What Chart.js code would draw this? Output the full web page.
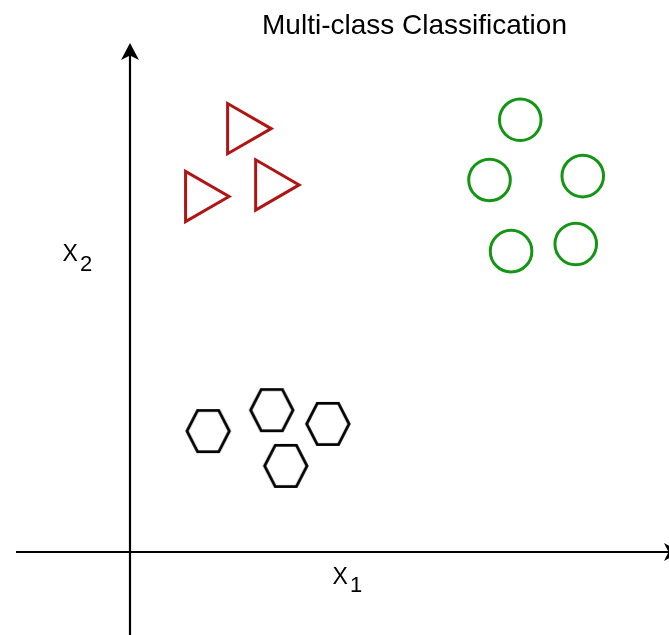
<!DOCTYPE html>
<html>
<head>
    <title>Multi-class Classification</title>
    <script src="https://cdn.jsdelivr.net/npm/chart.js"></script>
    <style>
        html, body {
            margin: 0;
            padding: 0;
            background-color: #ffffff;
        }
        #wrap {
            position: relative;
            width: 669px;
            height: 635px;
        }
    </style>
</head>
<body>
    <div id="wrap">
        <canvas id="myChart"></canvas>
    </div>
    <script>
        // class A: red triangles
        const triX = [2.08, 1.30, 2.60];
        const triY = [7.67, 6.44, 6.65];
        // class B: green circles
        const circX = [7.24, 6.67, 8.40, 7.07, 8.27];
        const circY = [7.83, 6.74, 6.81, 5.45, 5.58];
        // class C: black hexagons
        const hexX = [1.45, 2.63, 3.67, 2.89];
        const hexY = [2.19, 2.57, 2.32, 1.56];

        const titleText = "Multi-class Classification";
        const xLabel = ["X", "1"];
        const yLabel = ["X", "2"];

        function toPoints(xs, ys) {
            return xs.map((x, i) => ({ x: x, y: ys[i] }));
        }

        // hexagon marker (flat top), drawn once on its own canvas
        function makeHexagon() {
            const c = document.createElement("canvas");
            c.width = 52;
            c.height = 50;
            const g = c.getContext("2d");
            const cx = 26, cy = 25, hw = 21.2, hh = 20.6;
            g.beginPath();
            g.moveTo(cx - hw, cy);
            g.lineTo(cx - hw / 2, cy - hh);
            g.lineTo(cx + hw / 2, cy - hh);
            g.lineTo(cx + hw, cy);
            g.lineTo(cx + hw / 2, cy + hh);
            g.lineTo(cx - hw / 2, cy + hh);
            g.closePath();
            g.lineWidth = 2.9;
            g.lineJoin = "miter";
            g.strokeStyle = "#000000";
            g.stroke();
            return c;
        }

        function arrowHead(ctx, tipX, tipY, dir) {
            // dir: "up" or "right"
            ctx.beginPath();
            if (dir === "up") {
                ctx.moveTo(tipX, tipY);
                ctx.lineTo(tipX + 9, tipY + 17);
                ctx.lineTo(tipX, tipY + 12.5);
                ctx.lineTo(tipX - 9, tipY + 17);
            } else {
                ctx.moveTo(tipX, tipY);
                ctx.lineTo(tipX - 17, tipY + 9);
                ctx.lineTo(tipX - 12.5, tipY);
                ctx.lineTo(tipX - 17, tipY - 9);
            }
            ctx.closePath();
            ctx.fill();
        }

        // axes with arrows, axis names and the title
        const axesPlugin = {
            id: "axesPlugin",
            beforeDatasetsDraw(chart) {
                const ctx = chart.ctx;
                const ox = chart.scales.x.getPixelForValue(0);
                const oy = chart.scales.y.getPixelForValue(0);
                const W = chart.width;
                const H = chart.height;
                ctx.save();
                ctx.strokeStyle = "#000000";
                ctx.fillStyle = "#000000";
                ctx.lineWidth = 2.2;
                ctx.beginPath();
                ctx.moveTo(16, oy);
                ctx.lineTo(W + 4, oy);
                ctx.moveTo(ox, H);
                ctx.lineTo(ox, 52);
                ctx.stroke();
                arrowHead(ctx, ox, 43, "up");
                arrowHead(ctx, W + 12, oy, "right");

                ctx.textBaseline = "alphabetic";
                ctx.textAlign = "left";
                ctx.font = "23px 'Liberation Sans', Arial, sans-serif";
                ctx.fillText(yLabel[0], ox - 67.5, oy - 291);
                ctx.fillText(xLabel[0], ox + 202.5, oy + 31.5);
                ctx.font = "22px 'Liberation Sans', Arial, sans-serif";
                ctx.fillText(yLabel[1], ox - 50, oy - 281);
                ctx.fillText(xLabel[1], ox + 220, oy + 40);

                ctx.textAlign = "center";
                ctx.font = "28px 'Liberation Sans', Arial, sans-serif";
                ctx.fillText(titleText, ox + 284.5, 34);
                ctx.restore();
            }
        };

        const ctx = document.getElementById("myChart").getContext("2d");
        const myChart = new Chart(ctx, {
            type: "scatter",
            data: {
                datasets: [
                    {
                        label: "Class 1",
                        data: toPoints(triX, triY),
                        pointStyle: "triangle",
                        rotation: 90,
                        radius: 29,
                        hoverRadius: 29,
                        borderWidth: 3,
                        hoverBorderWidth: 3,
                        borderColor: "#B01515",
                        backgroundColor: "rgba(0,0,0,0)"
                    },
                    {
                        label: "Class 2",
                        data: toPoints(circX, circY),
                        pointStyle: "circle",
                        radius: 20.8,
                        hoverRadius: 20.8,
                        borderWidth: 3,
                        hoverBorderWidth: 3,
                        borderColor: "#149614",
                        backgroundColor: "rgba(0,0,0,0)"
                    },
                    {
                        label: "Class 3",
                        data: toPoints(hexX, hexY),
                        pointStyle: makeHexagon(),
                        radius: 22,
                        hoverRadius: 22,
                        borderColor: "#000000",
                        backgroundColor: "rgba(0,0,0,0)"
                    }
                ]
            },
            options: {
                responsive: true,
                maintainAspectRatio: false,
                animation: false,
                layout: {
                    autoPadding: false,
                    padding: { left: 130, right: 0, top: 0, bottom: 83 }
                },
                scales: {
                    x: { type: "linear", min: 0, max: 10, display: false },
                    y: { type: "linear", min: 0, max: 10, display: false }
                },
                plugins: {
                    legend: { display: false },
                    title: { display: false },
                    tooltip: { enabled: false }
                }
            },
            plugins: [axesPlugin]
        });
    </script>
</body>
</html>
